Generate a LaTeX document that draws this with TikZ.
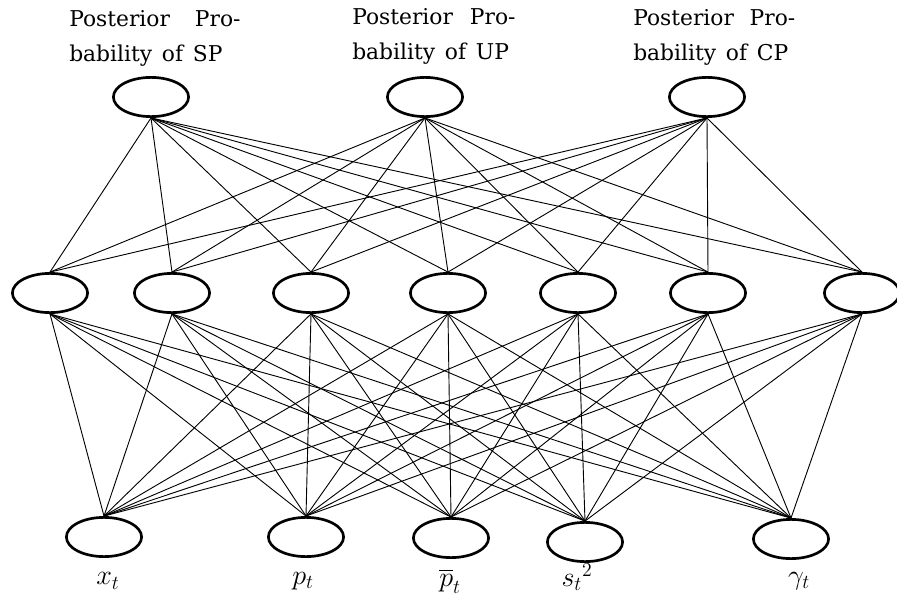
\RequirePackage{fix-cm}
\documentclass[tikz,border=0pt]{standalone}
\usepackage{fontspec}
\usepackage{amsmath}
\usepackage{amssymb}
\usetikzlibrary{shapes.geometric}
\newfontfamily\capfont{DejaVu Serif}
\newcommand\capstyle{\capfont\fontsize{15.5}{24.8}\selectfont\spaceskip 0.45em plus 3em\relax}
\tikzset{
  unit/.style={draw,ellipse,line width=1.9pt,minimum width=1.88cm,minimum height=0.98cm,inner sep=0pt},
  link/.style={line width=0.65pt},
  caption/.style={anchor=north west,inner sep=0pt,text width=#1,align=justify,font=\capstyle},
  varlabel/.style={inner sep=0pt,font=\fontsize{20}{24}\selectfont}
}
\begin{document}
\begin{tikzpicture}[x=0.025cm,y=-0.025cm]
            \useasboundingbox (0,0) rectangle (897,599);
            \node[caption=4.28cm] (cap1) at (69,10) {Posterior Pro-\linebreak bability of SP};
            \node[caption=4.08cm] (cap2) at (352,8) {Posterior Pro-\linebreak bability of UP};
            \node[caption=4.05cm] (cap3) at (633,9) {Posterior Pro-\linebreak bability of CP};
            \node[unit] (o1) at (151,97) {};
            \node[unit] (o2) at (425,97) {};
            \node[unit] (o3) at (707,97) {};
            \foreach \n/\x in {1/50,2/172,3/311,4/448,5/578,6/708,7/862}
              \node[unit] (h\n) at (\x,293) {};
            \node[unit] (i1) at (104,537) {};
            \node[unit] (i2) at (306,537) {};
            \node[unit] (i3) at (451,538) {};
            \node[unit] (i4) at (585,542) {};
            \node[unit] (i5) at (791,539) {};
            \node[varlabel] (l1) at (108,581) {$x_t$};
            \node[varlabel] (l2) at (303,581) {$p_t$};
            \node[varlabel] (l3) at (450,581) {$\overline{p}_t$};
            \node[varlabel] (l4) at (577,577) {$s_t{}^2$};
            \node[varlabel] (l5) at (799,581) {$\gamma_t$};
            \foreach \o in {1,2,3}
              \foreach \h in {1,...,7}
                \draw[link] (o\o.south) -- (h\h.north);
            \foreach \h in {1,...,7}
              \foreach \i in {1,...,5}
                \draw[link] (h\h.south) -- (i\i.north);
        \end{tikzpicture}
\end{document}
